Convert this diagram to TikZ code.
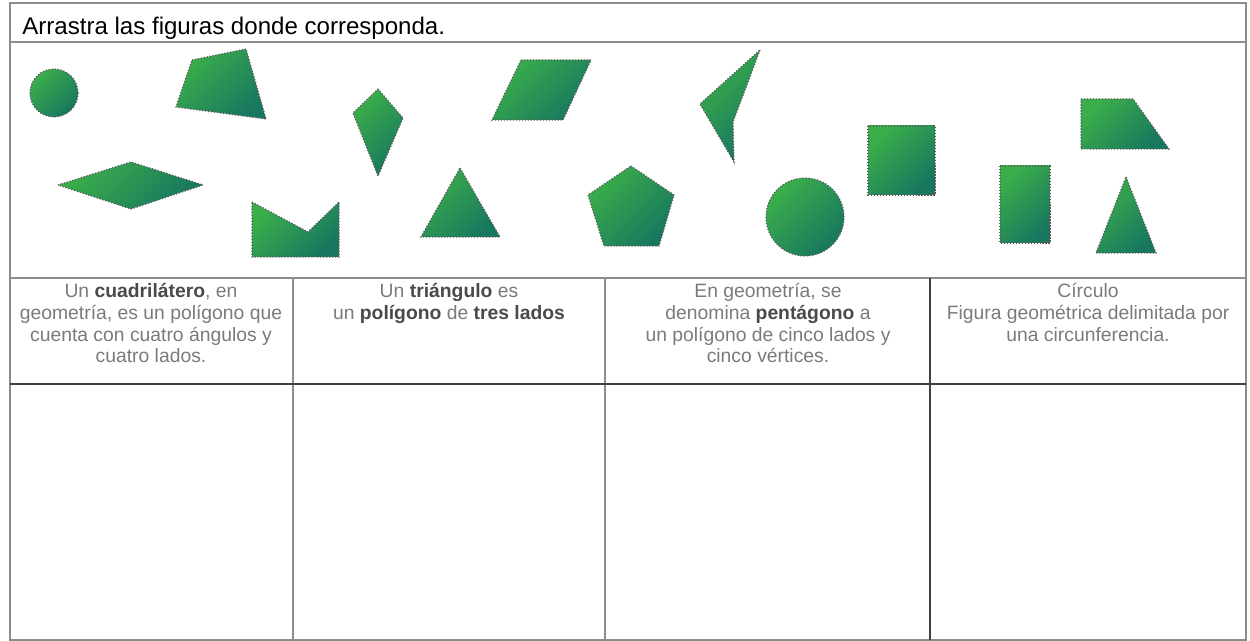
\documentclass[tikz,border=0pt]{standalone}
\usepackage{fontspec}
\setmainfont{Liberation Sans}
\usepackage{tikz}
\usetikzlibrary{positioning}
\definecolor{vclaro}{HTML}{3BAE4A}
\definecolor{voscuro}{HTML}{17775F}
\definecolor{lgris}{HTML}{8C8C8C}
\definecolor{tgris}{HTML}{7A7A7A}
\definecolor{ngris}{HTML}{4A4A4A}
\newcommand{\resalta}[1]{\textcolor{ngris}{\textbf{#1}}}
\tikzset{
  figura/.style={draw=black!65, densely dotted, line width=0.7pt, top color=vclaro, bottom color=voscuro, shading angle=45},
  celda/.style={anchor=north, align=center, inner sep=0pt, text=tgris, font=\fontsize{11}{12.4}\selectfont},
  linea/.style={lgris, line width=0.8pt}
}

\begin{document}
\begin{tikzpicture}[x=0.02cm, y=-0.02cm]
  \useasboundingbox (0,0) rectangle (1250,641);

  % Marco y rejilla
  \draw[linea] (10,3) rectangle (1246,640);
  \draw[linea] (10,42) -- (1246,42);
  \draw[linea] (10,278) -- (1246,278);
  \foreach \x in {293, 605} {
    \draw[linea] (\x,278) -- (\x,640);
  }
  \draw[black!75, line width=0.9pt] (930,278) -- (930,640);
  \draw[black!75, line width=1.3pt] (10,384) -- (1246,384);

  % Titulo
  \node[anchor=base west, inner sep=0pt, font=\fontsize{13.7}{16}\selectfont] (titulo) at (22,35) {Arrastra las figuras donde corresponda.};

  % Figuras
  \path[figura] (54,93) circle[radius=0.48cm];
  \path[figura] (192,60) -- (246,49) -- (266,119) -- (176,107) -- cycle;
  \path[figura] (378,89) -- (403,118) -- (378,176) -- (353,113) -- cycle;
  \path[figura] (58,185) -- (131,162) -- (203,185) -- (131,209) -- cycle;
  \path[figura] (252,202) -- (308,232) -- (339,202) -- (339,257) -- (252,257) -- cycle;
  \path[figura] (521,60) -- (591,60) -- (563,120) -- (492,120) -- cycle;
  \path[figura] (460,168) -- (500,237) -- (421,237) -- cycle;
  \path[figura] (631,166) -- (674,195) -- (659,246) -- (604,246) -- (588,195) -- cycle;
  \path[figura] (760,50) -- (733,122) -- (734,162) -- (700,104) -- cycle;
  \path[figura] (805,217) circle[radius=0.78cm];
  \path[figura] (868,126) rectangle (935,195);
  \path[figura] (1000,166) rectangle (1050,243);
  \path[figura] (1081,99) -- (1133,99) -- (1169,149) -- (1081,149) -- cycle;
  \path[figura] (1126,177) -- (1156,253) -- (1096,253) -- cycle;

  % Definiciones
  \node[celda] (cuad) at (151,283) {Un \resalta{cuadrilátero}, en\\geometría, es un polígono que\\cuenta con cuatro ángulos y\\cuatro lados.};
  \node[celda] (tri) at (449,283) {Un \resalta{triángulo} es\\un \resalta{polígono} de \resalta{tres lados}};
  \node[celda] (pent) at (768,283) {En geometría, se\\denomina \resalta{pentágono} a\\un polígono de cinco lados y\\cinco vértices.};
  \node[celda] (circ) at (1088,283) {Círculo\\Figura geométrica delimitada por\\una circunferencia.};
\end{tikzpicture}
\end{document}
